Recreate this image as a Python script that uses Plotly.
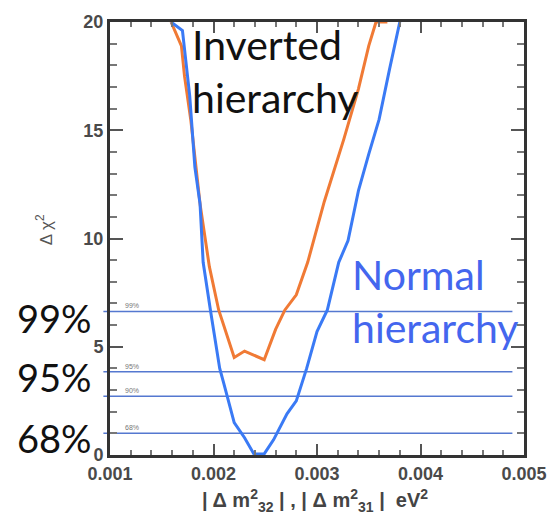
import plotly.graph_objects as go

# Normal hierarchy (blue)
nh_dm2 = [0.00159, 0.00170, 0.00177, 0.00182, 0.00187, 0.00190, 0.00197, 0.00201, 0.00206,
          0.00210, 0.00220, 0.00230, 0.00239, 0.00249, 0.00258, 0.00271, 0.00280, 0.00290,
          0.00300, 0.00310, 0.00321, 0.00330, 0.00340, 0.00350, 0.00360, 0.00370, 0.00380]
nh_chi2 = [20.0, 19.6, 16.6, 13.3, 11.6, 8.9, 6.7, 5.4, 4.0,
           3.3, 1.5, 0.8, 0.05, 0.05, 0.7, 1.9, 2.5, 4.0,
           5.7, 6.7, 8.9, 9.9, 12.2, 13.9, 15.5, 17.8, 20.0]

# Inverted hierarchy (orange)
ih_dm2 = [0.00159, 0.00169, 0.00172, 0.00178, 0.00187, 0.00196, 0.00205, 0.00211, 0.00220,
          0.00230, 0.00249, 0.00260, 0.00269, 0.00280, 0.00291, 0.00307, 0.00326, 0.00340,
          0.00350, 0.00357, 0.00368]
ih_chi2 = [20.0, 18.9, 17.5, 15.5, 11.6, 8.7, 6.7, 5.8, 4.5,
           4.8, 4.4, 5.8, 6.7, 7.4, 8.9, 11.7, 14.6, 16.9,
           18.9, 20.0, 20.0]

# Confidence levels
cl_labels = ["99%", "95%", "90%", "68%"]
cl_values = [6.63, 3.84, 2.71, 1.0]
big_labels = ["99%", "95%", "68%"]
big_label_y = [6.35, 3.6, 0.8]

x_ticks = [0.001, 0.002, 0.003, 0.004, 0.005]
y_ticks = [0, 5, 10, 15, 20]

fig = go.Figure()

shapes = []
annotations = []
for lab, v in zip(cl_labels, cl_values):
    shapes.append(dict(type="line", xref="paper", yref="y", x0=-0.016, x1=0.972, y0=v, y1=v,
                       line=dict(color="#5578d0", width=1.5), layer="below"))
    annotations.append(dict(x=0.00113, y=v, xref="x", yref="y", text=lab, showarrow=False,
                            xanchor="left", yanchor="bottom", yshift=0,
                            font=dict(family="Liberation Sans", size=7, color="#777")))

fig.add_trace(go.Scatter(x=ih_dm2, y=ih_chi2, mode="lines",
                         line=dict(color="#f07a35", width=3), showlegend=False))
fig.add_trace(go.Scatter(x=nh_dm2, y=nh_chi2, mode="lines",
                         line=dict(color="#3a7af5", width=3), showlegend=False))

for lab, yv in zip(big_labels, big_label_y):
    annotations.append(dict(x=-0.135, y=yv, xref="paper", yref="y", text=lab, showarrow=False,
                            xanchor="center", yanchor="middle",
                            font=dict(family="Lato", size=38, color="#111")))

annotations.append(dict(x=0.193, y=1.01, xref="paper", yref="paper",
                        text="Inverted<br>hierarchy", showarrow=False, align="left",
                        xanchor="left", yanchor="top",
                        font=dict(family="Lato", size=41, color="#111")))
annotations.append(dict(x=0.58, y=0.355, xref="paper", yref="paper",
                        text="Normal<br>hierarchy", showarrow=False, align="left",
                        xanchor="left", yanchor="middle",
                        font=dict(family="Lato", size=41, color="#4466ee")))

annotations.append(dict(x=-0.19, y=0.52, xref="paper", yref="paper",
                        text="Δ χ<sup>2</sup>", showarrow=False, textangle=-90,
                        font=dict(family="Liberation Sans", size=17, color="#555")))
annotations.append(dict(x=0.494, y=-0.104, xref="paper", yref="paper",
                        text="<b>| Δ m<sup>2</sup><sub>32</sub> | , | Δ m<sup>2</sup><sub>31</sub> |  eV<sup>2</sup></b>",
                        showarrow=False, yanchor="middle",
                        font=dict(family="Liberation Sans", size=20, color="#444")))

tick_font = dict(family="Liberation Sans", size=18, color="#4a4a4a")

fig.update_layout(
    width=559, height=522,
    margin=dict(l=110, r=24, t=13, b=67),
    paper_bgcolor="white", plot_bgcolor="white",
    shapes=shapes, annotations=annotations,
    xaxis=dict(range=[0.001, 0.005], tickvals=x_ticks,
               ticktext=[f"<b>{v:.3f}</b>" for v in x_ticks],
               ticks="inside", ticklen=11, tickwidth=1.5, tickcolor="#555",
               minor=dict(dtick=0.0002, ticks="inside", ticklen=5, tickcolor="#777", tick0=0.001),
               showline=True, linecolor="#333", linewidth=3, mirror="allticks",
               showgrid=False, zeroline=False, tickfont=tick_font),
    yaxis=dict(range=[0, 20], tickvals=y_ticks, ticktext=[f"<b>{v}</b>" for v in y_ticks],
               ticks="inside", ticklen=13, tickwidth=1.5, tickcolor="#555",
               minor=dict(dtick=1, ticks="inside", ticklen=7, tickcolor="#777"),
               showline=True, linecolor="#333", linewidth=3, mirror="allticks",
               showgrid=False, zeroline=False, tickfont=tick_font),
)

fig.write_html("out.html")
